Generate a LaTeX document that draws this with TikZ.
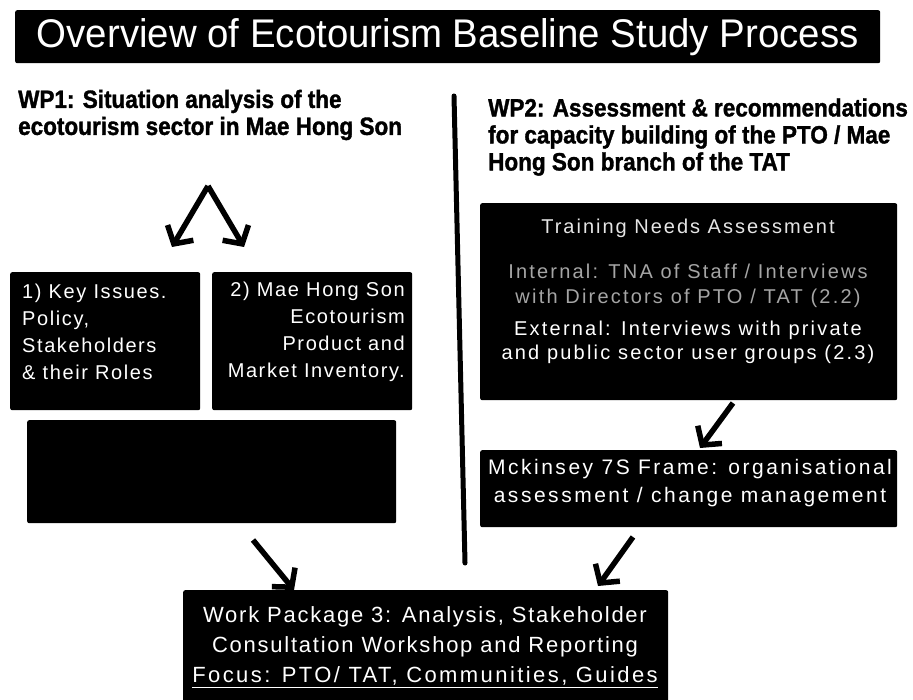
\documentclass[tikz,border=0pt]{standalone}
\usepackage{fontspec}
\setmainfont{Liberation Sans}
\newfontfamily\titlefont{Liberation Sans}[FakeStretch=0.96]
\newfontfamily\hdrfont{Liberation Sans Bold}[FakeStretch=0.9,FakeBold=1.4]
\newfontfamily\boxfont{Liberation Sans}[LetterSpace=10]
\newfontfamily\boxfontb{Liberation Sans}[LetterSpace=8]
\newfontfamily\boxfontc{Liberation Sans}[LetterSpace=11]
\newfontfamily\boxfontd{Liberation Sans}[LetterSpace=12]
\usetikzlibrary{arrows.meta}
\definecolor{dimtext}{RGB}{165,165,165}
\begin{document}
\begin{tikzpicture}[x=1pt,y=-1pt,
  blk/.style={fill=black, rounded corners=2pt, inner sep=0pt, anchor=north west},
  wtxt/.style={text=white, inner sep=0pt},
  hdr/.style={inner sep=0pt, align=left, anchor=west, font=\hdrfont\fontsize{25}{27}\selectfont},
  bigarrow/.style={line width=5.5pt, -{Straight Barb[length=13pt,width=30pt]}},
  divider/.style={line width=5pt, line cap=round}
]
\useasboundingbox[fill=white] (0,0) rectangle (913,700);

% title
\node[blk, minimum width=865, minimum height=53] (titlebox) at (15,10) {};
\node[wtxt, font=\titlefont\fontsize{40}{44}\selectfont] (title) at (titlebox.center) {Overview of Ecotourism Baseline Study Process};

% headers
\node[hdr] (wp1) at (18,115) {WP1: Situation analysis of the\\ecotourism sector in Mae Hong Son};
\node[hdr] (wp2) at (488,137) {WP2: Assessment \& recommendations\\for capacity building of the PTO / Mae\\Hong Son branch of the TAT};

% divider
\coordinate (divtop) at (454,96);
\coordinate (divbot) at (465,563);
\draw[divider] (divtop) -- (divbot);

% WP1 boxes
\node[blk, minimum width=190, minimum height=138] (b1) at (10,272) {};
\node[wtxt, align=left, anchor=west, font=\boxfontb\fontsize{20}{27}\selectfont] (b1t) at (22,332) {1) Key Issues.\\Policy,\\Stakeholders\\\& their Roles};
\node[blk, minimum width=200, minimum height=138] (b2) at (212,272) {};
\node[wtxt, align=right, anchor=east, font=\boxfontb\fontsize{20}{27}\selectfont] (b2t) at (405,332) {2) Mae Hong Son\\Ecotourism\\Product and\\Market Inventory.};
\node[blk, minimum width=369, minimum height=103] (b3) at (27,420) {};

% WP1 arrows
\coordinate (apex) at (208,186);
\coordinate (t1) at (172,247);
\coordinate (t2) at (244,247);
\draw[bigarrow] (apex) -- (t1);
\draw[bigarrow] (apex) -- (t2);

% WP2 boxes
\node[blk, minimum width=417, minimum height=197] (tna) at (480,203) {};
\node[wtxt, text=white!90!black, font=\boxfont\fontsize{20}{25}\selectfont] (tna1) at (688,228) {Training Needs Assessment};
\node[wtxt, text=dimtext, align=center, font=\boxfontc\fontsize{20}{25}\selectfont] (tna2) at (688,286) {Internal: TNA of Staff / Interviews\\with Directors of PTO / TAT (2.2)};
\node[wtxt, align=center, font=\boxfontc\fontsize{20}{24}\selectfont] (tna3) at (688,342) {External: Interviews with private\\and public sector user groups (2.3)};

\node[blk, minimum width=417, minimum height=77] (mck) at (480,450) {};
\node[wtxt, align=center, font=\boxfontd\fontsize{21}{28}\selectfont] (mckt) at (690,483) {Mckinsey 7S Frame: organisational\\assessment / change management};

\coordinate (a3s) at (733,403);
\coordinate (a3e) at (700,448);
\draw[bigarrow] (a3s) -- (a3e);

% WP3
\node[blk, minimum width=485, minimum height=120] (wp3) at (183,590) {};
\node[wtxt, align=center, font=\boxfontb\fontsize{22}{30}\selectfont] (wp3t) at (425,647) {Work Package 3: Analysis, Stakeholder\\Consultation Workshop and Reporting\\{\boxfontc\underline{Focus: PTO/ TAT, Communities, Guides}}};

\coordinate (a4s) at (253,540);
\coordinate (a4e) at (294,590);
\draw[bigarrow] (a4s) -- (a4e);
\coordinate (a5s) at (633,537);
\coordinate (a5e) at (598,586);
\draw[bigarrow] (a5s) -- (a5e);
\end{tikzpicture}
\end{document}
